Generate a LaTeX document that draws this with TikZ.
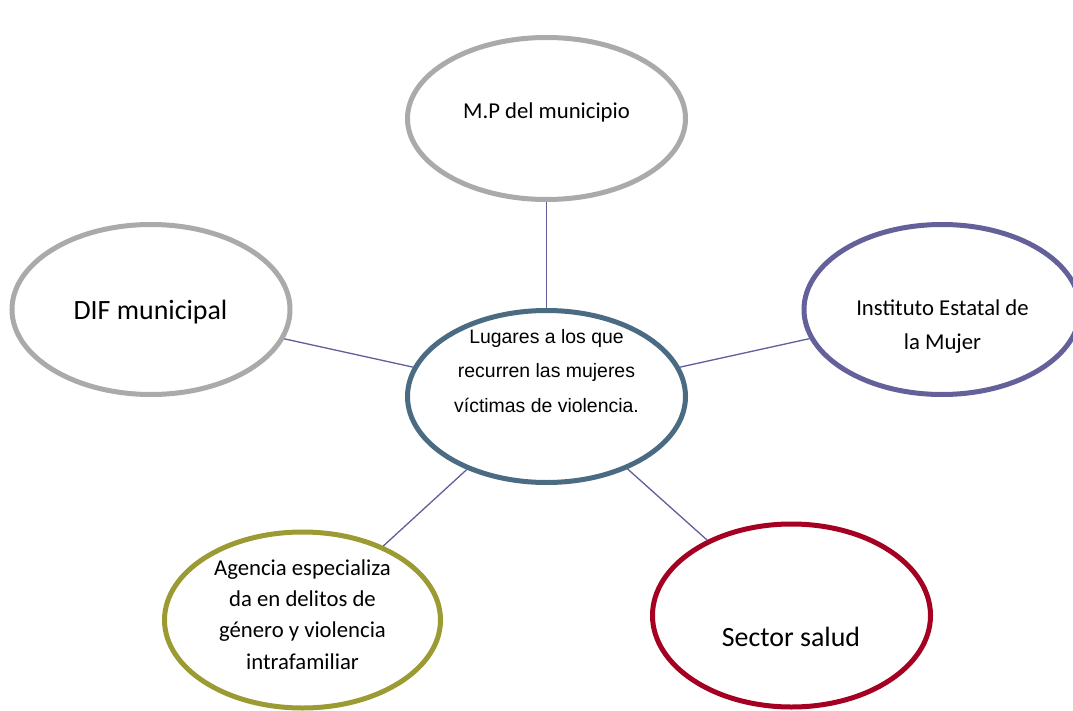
\documentclass[tikz,border=0pt]{standalone}
\usepackage{fontspec}
\usetikzlibrary{shapes.geometric}
\setmainfont{Carlito}
\newfontfamily\arialfont{Liberation Sans}
\definecolor{gris}{RGB}{170,170,170}
\definecolor{azulgris}{RGB}{74,107,130}
\definecolor{morado}{RGB}{100,96,154}
\definecolor{olivo}{RGB}{156,154,51}
\definecolor{guinda}{RGB}{165,0,33}
\definecolor{enlace}{RGB}{98,93,155}
\begin{document}
\begin{tikzpicture}[x=1bp, y=-1bp]
			\tikzstyle{lugar} = [ellipse, line width=5bp, fill=white, inner sep=0pt]
			\tikzstyle{texto} = [inner sep=0pt, align=center]
			\tikzstyle{link}  = [draw=enlace, line width=1.3bp]

			\clip (0,0) rectangle (1073,711);
			\fill[white] (0,0) rectangle (1073,711);

			\node[lugar, draw=azulgris, minimum width=278bp, minimum height=172bp] (centro) at (546.5, 396.5) {};

			\foreach \name/\col/\x/\y/\w/\h in {mp/gris/546.5/118.5/278/162, dif/gris/151/309.5/278/170,
				inst/morado/942/309.5/276/170, agen/olivo/302.5/620/276/176, salud/guinda/791.5/615.5/278/183}
				\node[lugar, draw=\col, minimum width=\w bp, minimum height=\h bp] (\name) at (\x, \y) {};

			\foreach \from in {mp, dif, inst, agen, salud}
				\draw[link] (\from) -- (centro);

			% textos
			\node[texto, anchor=base, font=\arialfont\fontsize{19.5}{34.5}\selectfont] (tcentro) at (546.5, 412)
				{Lugares a los que\\recurren las mujeres\\víctimas de violencia.};
			\node[texto, anchor=base, font=\fontsize{22.8}{27}\selectfont] (tmp) at (546.5, 119) {M.P del municipio};
			\node[texto, anchor=base, font=\fontsize{28}{34}\selectfont] (tdif) at (150.5, 319) {DIF municipal};
			\node[texto, anchor=base, font=\fontsize{22.8}{34}\selectfont] (tinst) at (942.5, 349)
				{Instituto Estatal de\\la Mujer};
			\node[texto, anchor=base, font=\fontsize{22.8}{31.3}\selectfont] (tagen) at (302.5, 669)
				{Agencia especializa\\da en delitos de\\género y violencia\\intrafamiliar};
			\node[texto, anchor=base, font=\fontsize{28}{34}\selectfont] (tsalud) at (791, 646) {Sector salud};
		\end{tikzpicture}
\end{document}
